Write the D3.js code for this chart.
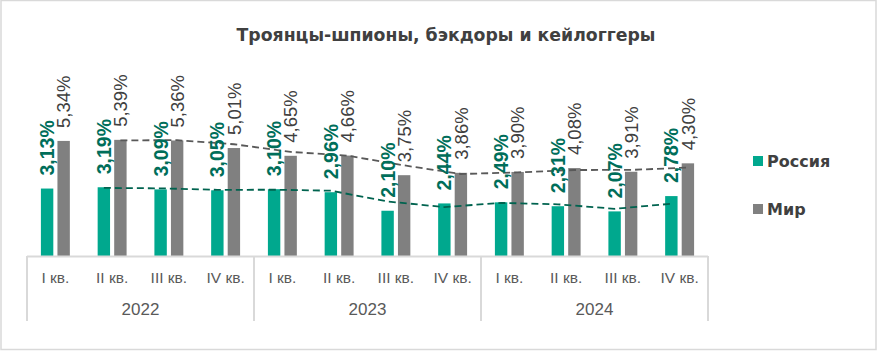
<!DOCTYPE html>
<html>
<head>
<meta charset="utf-8">
<script src="https://cdn.jsdelivr.net/npm/d3@7"></script>
<style>
  body { margin: 0; background: #fff; }
  svg { display: block; }
</style>
</head>
<body>
<div id="chart"></div>
<script>
const years = ["2022", "2023", "2024"];
const quarters = ["I кв.", "II кв.", "III кв.", "IV кв."];
const seriesNames = ["Россия", "Мир"];
const russia = [3.13, 3.19, 3.09, 3.05, 3.10, 2.96, 2.10, 2.44, 2.49, 2.31, 2.07, 2.78];
const world = [5.34, 5.39, 5.36, 5.01, 4.65, 4.66, 3.75, 3.86, 3.90, 4.08, 3.91, 4.30];

const width = 878, height = 351;
const plot = { left: 27, right: 708, base: 256 };
const colors = { "Россия": "#00a88e", "Мир": "#808080" };

const svg = d3.select("#chart").append("svg")
  .attr("width", width)
  .attr("height", height);

// рамка
svg.append("rect")
  .attr("x", 1).attr("y", 0.5)
  .attr("width", 875).attr("height", 349)
  .attr("fill", "none")
  .attr("stroke", "#d9d9d9")
  .attr("stroke-width", 1.5);

// заголовок
svg.append("text")
  .attr("x", 446).attr("y", 41)
  .attr("text-anchor", "middle")
  .style("font-family", "DejaVu Sans")
  .style("font-weight", "bold")
  .style("font-size", "17.3px")
  .attr("fill", "#404040")
  .text("Троянцы-шпионы, бэкдоры и кейлоггеры");

const cats = [];
years.forEach((y) => quarters.forEach((q) => cats.push(y + "|" + q)));

const data = cats.map((c, i) => ({ cat: c, "Россия": russia[i], "Мир": world[i] }));

const x0 = d3.scaleBand().domain(cats).range([plot.left, plot.right]).paddingInner(0.49).paddingOuter(0.245);
const x1 = d3.scaleBand().domain(seriesNames).range([0, x0.bandwidth()]).paddingInner(0.25);
const y = d3.scaleLinear().domain([0, 8]).range([plot.base, plot.base - 8 * 21.55]);

const g = svg.append("g");

// столбцы
seriesNames.forEach((s) => {
  g.selectAll(".bar-" + s)
    .data(data)
    .enter()
    .append("rect")
    .attr("x", (d) => x0(d.cat) + x1(s))
    .attr("y", (d) => y(d[s]))
    .attr("width", x1.bandwidth())
    .attr("height", (d) => y(0) - y(d[s]))
    .attr("fill", colors[s]);
});

// линии тренда (скользящее среднее, 2 периода)
const trendStyle = { "Россия": "#00634f", "Мир": "#595959" };
seriesNames.forEach((s) => {
  const pts = [];
  for (let i = 1; i < data.length; i++) {
    pts.push([x0(data[i].cat) + x1(s) + x1.bandwidth() / 2, (data[i][s] + data[i - 1][s]) / 2]);
  }
  g.append("path")
    .datum(pts)
    .attr("fill", "none")
    .attr("stroke", trendStyle[s])
    .attr("stroke-width", 1.8)
    .attr("stroke-dasharray", "7,4")
    .attr("d", d3.line().x((d) => d[0]).y((d) => y(d[1])));
});

// подписи значений
const fmt = (v) => v.toFixed(2).replace(".", ",") + "%";
seriesNames.forEach((s) => {
  g.selectAll(".lbl-" + s)
    .data(data)
    .enter()
    .append("text")
    .attr("transform", (d) => `translate(${x0(d.cat) + x1(s) + x1.bandwidth() / 2},${y(d[s]) - 13}) rotate(-90)`)
    .attr("dy", "0.36em")
    .attr("text-anchor", "start")
    .style("font-family", "Liberation Sans, Arial")
    .style("font-size", s === "Россия" ? "19.5px" : "18.5px")
    .style("font-weight", s === "Россия" ? "bold" : "normal")
    .attr("fill", s === "Россия" ? "#006e5a" : "#404040")
    .text((d) => fmt(d[s]));
});

// ось
const axisColor = "#d9d9d9";
g.append("line")
  .attr("x1", plot.left).attr("x2", plot.right)
  .attr("y1", plot.base + 0.5).attr("y2", plot.base + 0.5)
  .attr("stroke", axisColor).attr("stroke-width", 2);

const step = x0.step();
years.forEach((yr, i) => {
  const left = plot.left + i * 4 * step;
  g.append("line")
    .attr("x1", left).attr("x2", left)
    .attr("y1", plot.base).attr("y2", 321)
    .attr("stroke", axisColor).attr("stroke-width", 2);
  g.append("text")
    .attr("x", left + 2 * step).attr("y", 315)
    .attr("text-anchor", "middle")
    .style("font-family", "Liberation Sans, Arial")
    .style("font-size", "17px")
    .attr("fill", "#595959")
    .text(yr);
});
g.append("line")
  .attr("x1", plot.right).attr("x2", plot.right)
  .attr("y1", plot.base).attr("y2", 321)
  .attr("stroke", axisColor).attr("stroke-width", 2);

g.selectAll(".qlbl")
  .data(cats)
  .enter()
  .append("text")
  .attr("x", (d) => x0(d) + x0.bandwidth() / 2)
  .attr("y", 282.5)
  .attr("text-anchor", "middle")
  .style("font-family", "Liberation Sans, Arial")
  .style("font-size", "15.5px")
  .attr("fill", "#595959")
  .text((d) => d.split("|")[1]);

// легенда
const legend = svg.append("g");
seriesNames.forEach((s, i) => {
  const ly = 161 + i * 48;
  legend.append("rect")
    .attr("x", 753).attr("y", ly - 5)
    .attr("width", 10).attr("height", 10)
    .attr("fill", colors[s]);
  legend.append("text")
    .attr("x", 767).attr("y", ly)
    .attr("dy", "0.36em")
    .style("font-family", "DejaVu Sans")
    .style("font-weight", "bold")
    .style("font-size", "16px")
    .attr("fill", "#404040")
    .text(s);
});
</script>
</body>
</html>
